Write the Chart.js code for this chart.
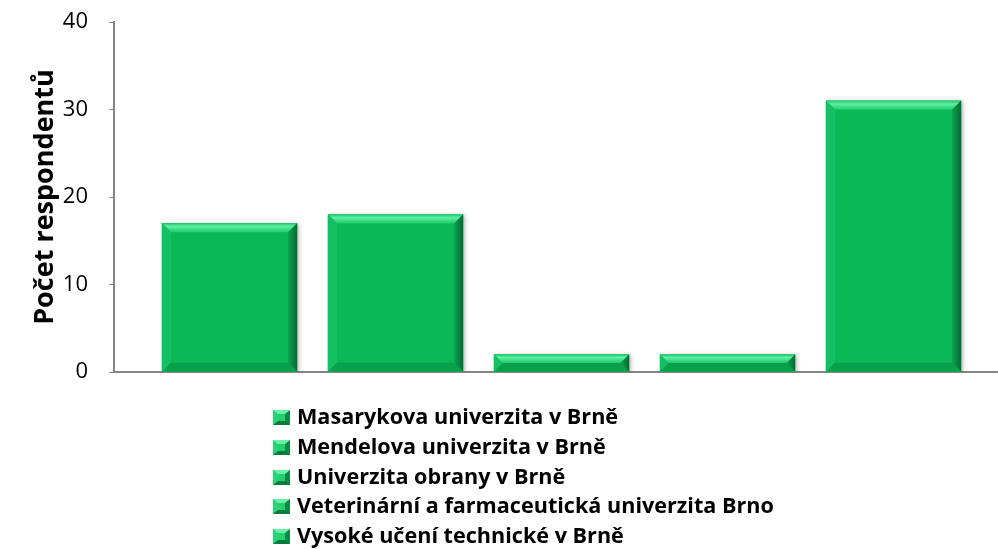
<!DOCTYPE html>
<html lang="cs">
<head>
<meta charset="utf-8">
<script src="https://cdn.jsdelivr.net/npm/chart.js@4.4.1/dist/chart.umd.min.js"></script>
<style>
  html, body { margin: 0; padding: 0; background: #fff; }
  #wrap { position: relative; width: 998px; height: 549px; overflow: hidden; }
  #legend {
    position: absolute; left: 273px; top: 401px;
    font-family: "Open Sans", sans-serif; font-weight: bold;
    font-size: 21.6px; line-height: 29.8px; color: #000;
  }
  #legend div { white-space: nowrap; }
  #legend span.box {
    display: inline-block; box-sizing: border-box; width: 17px; height: 15px;
    margin-right: 7px; vertical-align: -1px;
    background: #22d06e;
    border-style: solid; border-width: 4px 5px;
    border-color: #6cf0a8 #0a8a45 #077a3c #2fd07a;
  }
</style>
</head>
<body>
<div id="wrap">
  <canvas id="chart" width="998" height="549"></canvas>
  <div id="legend"></div>
</div>
<script>
// data
const categories = [
  'Masarykova univerzita v Brně',
  'Mendelova univerzita v Brně',
  'Univerzita obrany v Brně',
  'Veterinární a farmaceutická univerzita Brno',
  'Vysoké učení technické v Brně'
];
const respondents = [17, 18, 2, 2, 31];
const yTicks = [0, 10, 20, 30, 40];

const barColor = '#0bb858';

// bevel + shadow, roughly like the Office bar style
const bevelPlugin = {
  id: 'bevel',
  beforeDatasetsDraw(chart) {
    const ctx = chart.ctx;
    ctx.save();
    ctx.shadowColor = 'rgba(0,0,0,0.28)';
    ctx.shadowBlur = 4;
    ctx.shadowOffsetX = 2;
    ctx.shadowOffsetY = 1;
  },
  afterDatasetsDraw(chart) {
    const ctx = chart.ctx;
    ctx.restore();
    chart.getDatasetMeta(0).data.forEach(bar => {
      const l = bar.x - bar.width / 2, r = bar.x + bar.width / 2;
      const t = bar.y, btm = bar.base;
      const b = Math.min(9, (btm - t) / 2);
      const poly = (pts, fill) => {
        ctx.beginPath();
        ctx.moveTo(pts[0][0], pts[0][1]);
        for (let i = 1; i < pts.length; i++) ctx.lineTo(pts[i][0], pts[i][1]);
        ctx.closePath();
        ctx.fillStyle = fill;
        ctx.fill();
      };
      const gTop = ctx.createLinearGradient(0, t, 0, t + b);
      gTop.addColorStop(0, '#1fc96a');
      gTop.addColorStop(0.35, '#5cf0a2');
      gTop.addColorStop(1, '#22c96c');
      poly([[l, t], [r, t], [r - b, t + b], [l + b, t + b]], gTop);
      poly([[l, t], [l + b, t + b], [l + b, btm - b], [l, btm]], '#14c063');
      const gR = ctx.createLinearGradient(r - b, 0, r, 0);
      gR.addColorStop(0, '#09a54e');
      gR.addColorStop(1, '#066b33');
      poly([[r, t], [r, btm], [r - b, btm - b], [r - b, t + b]], gR);
      poly([[l, btm], [l + b, btm - b], [r - b, btm - b], [r, btm]], '#08a04b');
    });
  }
};

new Chart(document.getElementById('chart'), {
  type: 'bar',
  data: {
    labels: categories,
    datasets: [{
      label: 'Počet respondentů',
      data: respondents.map((v, i) => ({ x: i, y: v })),
      backgroundColor: barColor,
      borderWidth: 0,
      barThickness: 135
    }]
  },
  options: {
    responsive: false,
    animation: false,
    layout: { padding: { top: 22, bottom: 177, left: 0, right: 0 } },
    plugins: {
      legend: { display: false },
      tooltip: { enabled: false }
    },
    scales: {
      x: {
        type: 'linear',
        offset: false,
        min: -0.696,
        max: 4.629,
        ticks: { display: false },
        grid: { display: false, drawTicks: false },
        border: { color: '#868686', width: 2 }
      },
      y: {
        min: 0,
        max: 40,
        afterBuildTicks: s => { s.ticks = yTicks.map(v => ({ value: v })); },
        afterFit: s => { s.width = 114; s.paddingTop = 0; s.paddingBottom = 0; },
        ticks: {
          color: '#000',
          padding: 21,
          font: { family: '"Open Sans", sans-serif', size: 22 }
        },
        grid: { drawOnChartArea: false, drawTicks: true, tickLength: 5, color: '#868686', lineWidth: 1 },
        border: { color: '#868686', width: 2 },
        title: {
          display: true,
          text: 'Počet respondentů',
          color: '#000',
          padding: { top: 29, bottom: 0 },
          font: { family: '"Open Sans", sans-serif', size: 27, weight: 'bold', lineHeight: 1.2 }
        }
      }
    }
  },
  plugins: [bevelPlugin]
});

// legend as a plain list, one category per row
const legend = document.getElementById('legend');
categories.forEach(name => {
  const row = document.createElement('div');
  const box = document.createElement('span');
  box.className = 'box';
  row.appendChild(box);
  row.appendChild(document.createTextNode(name));
  legend.appendChild(row);
});
</script>
</body>
</html>
